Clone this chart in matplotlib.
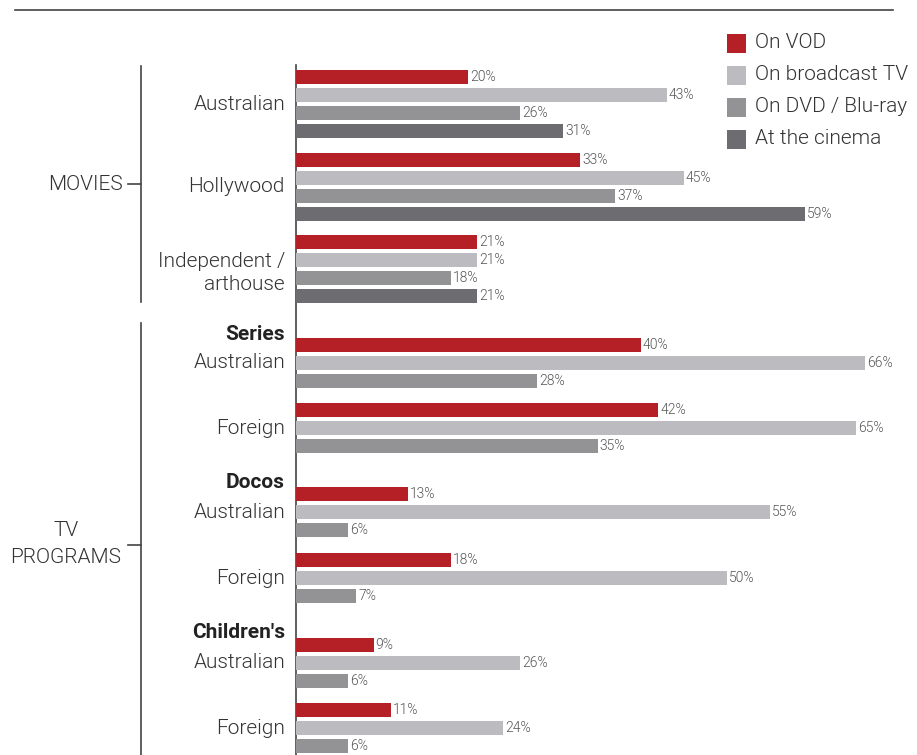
"""Where audiences watch Australian and foreign content, horizontal bar chart."""

import matplotlib
matplotlib.use("Agg")
import matplotlib.pyplot as plt

# Data
series_names = ["On VOD", "On broadcast TV", "On DVD / Blu-ray", "At the cinema"]
series_colors = ["#b51f26", "#bcbcc0", "#939396", "#6d6d71"]

group_labels = ["Australian", "Hollywood", "Independent /\narthouse",
                "Australian", "Foreign", "Australian", "Foreign",
                "Australian", "Foreign"]
vod = [20, 33, 21, 40, 42, 13, 18, 9, 11]
broadcast = [43, 45, 21, 66, 65, 55, 50, 26, 24]
dvd = [26, 37, 18, 28, 35, 6, 7, 6, 6]
cinema = [31, 59, 21]          # movies only

sub_headers = ["Series", "Docos", "Children's"]
sections = ["MOVIES", "TV\nPROGRAMS"]

# Layout (pixel units of a 917x755 canvas)
W, H = 917, 755
first_bar = [77, 160, 242, 345, 410, 494, 560, 645, 710]
header_y = [335, 483, 633]
pitch = 18
bar_h = 14
px_per_pct = 8.62
axis_x = 296
text_color = "#333333"
font = ["Roboto", "DejaVu Sans"]
big = 15

fig = plt.figure(figsize=(W / 100, H / 100), dpi=100)

# overlay axes in pixel coordinates for labels and rules
over = fig.add_axes([0, 0, 1, 1])
over.set_xlim(0, W)
over.set_ylim(H, 0)
over.axis("off")

# bar axes, same vertical scale as the overlay
ax = fig.add_axes([axis_x / W, 0, 70 * px_per_pct / W, 1])
ax.set_xlim(0, 70)
ax.set_ylim(H, 0)
ax.axis("off")

all_values = [vod, broadcast, dvd, cinema]
for g, y0 in enumerate(first_bar):
    for s, values in enumerate(all_values):
        if g >= len(values):
            continue
        y = y0 + s * pitch
        v = values[g]
        ax.barh(y, v, height=bar_h, color=series_colors[s], linewidth=0)
        ax.annotate(f"{v}%", (v, y), xytext=(1.5, 0), textcoords="offset points",
                    va="center", ha="left", fontsize=10, color="#555555",
                    family=font, fontweight=300)

# category labels
for g, y0 in enumerate(first_bar):
    n = 4 if g < 3 else 3
    yc = y0 + (n - 1) * pitch / 2
    if g == 2:
        yc += 4
    over.text(285, yc, group_labels[g], ha="right", va="center", fontsize=big,
              color=text_color, family=font, fontweight=300, linespacing=1.3)

for label, y in zip(sub_headers, header_y):
    over.text(285, y, label, ha="right", va="center", fontsize=big,
              fontweight="bold", color="#222222", family=font)

# value axis line and top rule
over.plot([axis_x, axis_x], [65, H], color="#444444", lw=1.2)
over.plot([15, 893], [10, 10], color="#444444", lw=1.2)

# section brackets
over.plot([141, 141], [66, 302], color="#444444", lw=1.2)
over.plot([128, 141], [184, 184], color="#444444", lw=1.2)
over.text(123, 184, sections[0], ha="right", va="center", fontsize=big,
          color=text_color, family=font, fontweight=300)
over.plot([141, 141], [323, H], color="#444444", lw=1.2)
over.plot([128, 141], [545, 545], color="#444444", lw=1.2)
over.text(66, 544, sections[1], ha="center", va="center", fontsize=big,
          color=text_color, family=font, fontweight=300, linespacing=1.5)

# legend
legend_y = [43, 75, 107, 139]
for name, color, y in zip(series_names, series_colors, legend_y):
    over.add_patch(plt.Rectangle((727, y - 9.5), 19, 19, color=color, lw=0))
    over.text(755, y, name, ha="left", va="center", fontsize=big,
              color=text_color, family=font, fontweight=300)

fig.savefig("out.png", dpi=100)
